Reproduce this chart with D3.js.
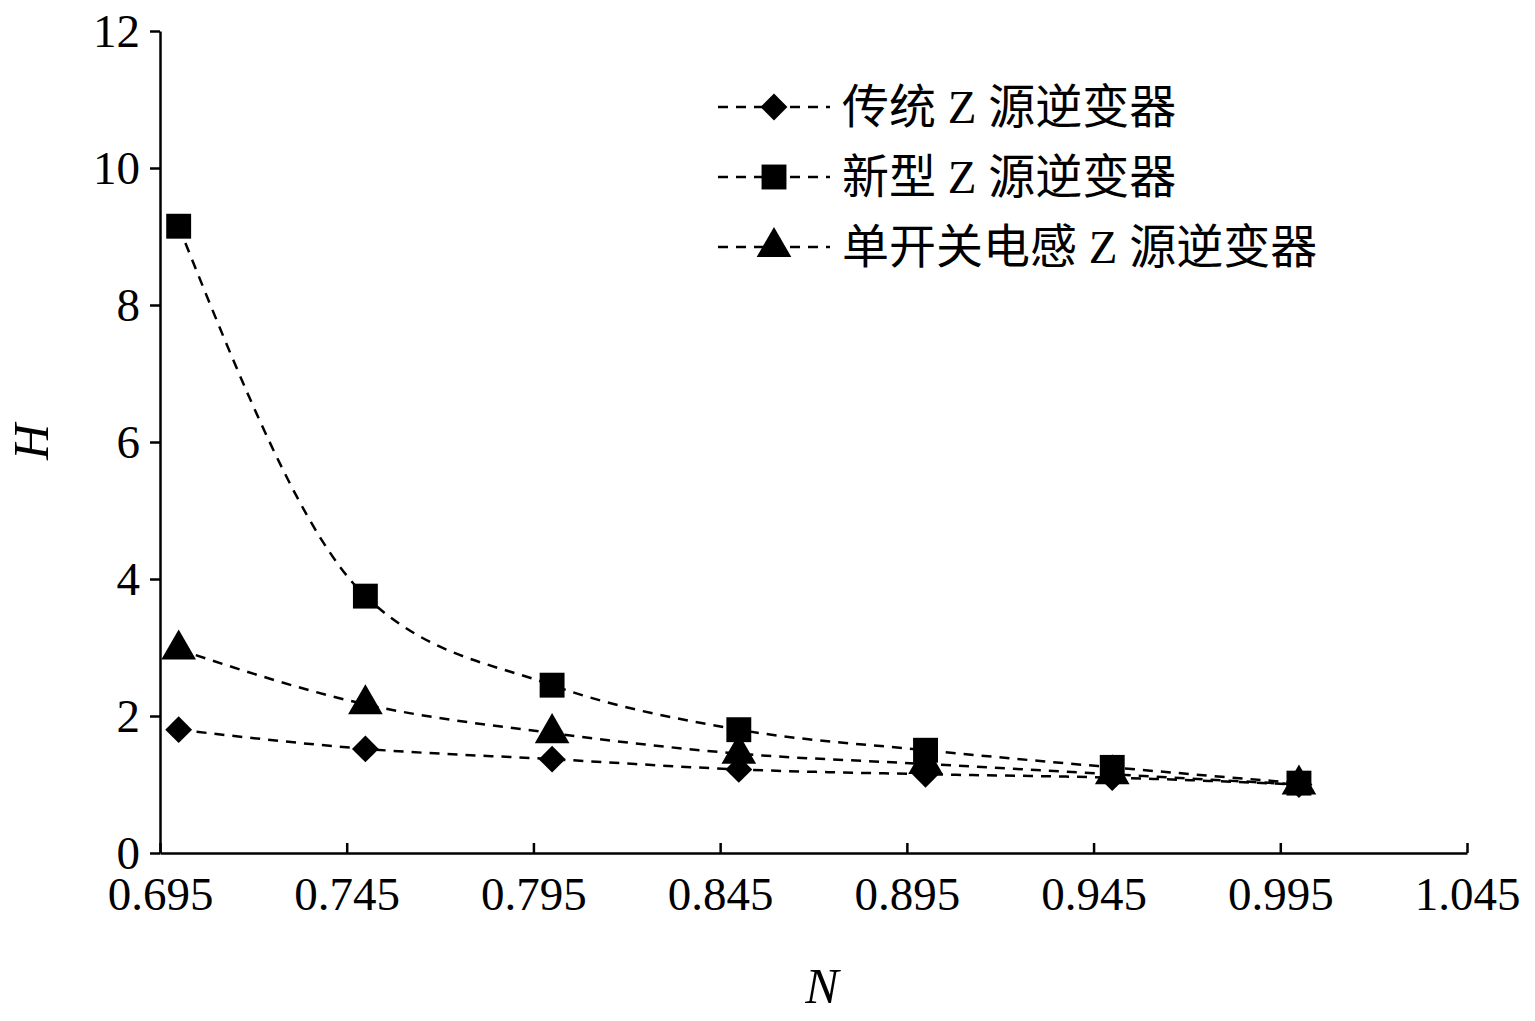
<!DOCTYPE html>
<html><head><meta charset="utf-8">
<script src="https://cdn.jsdelivr.net/npm/d3@7"></script>
<style>body{margin:0;background:#fff}</style></head>
<body><svg id="c" width="1535" height="1021"></svg>
<script>
const xValues=[0.7,0.75,0.8,0.85,0.9,0.95,1.0];
const seriesNames=["传统 Z 源逆变器","新型 Z 源逆变器","单开关电感 Z 源逆变器"];
const diamondVals=[1.8,1.52,1.37,1.22,1.15,1.1,1.0];
const squareVals=[9.15,3.75,2.45,1.8,1.5,1.25,1.02];
const triangleVals=[2.97,2.17,1.75,1.45,1.3,1.15,1.0];
const xTicks=[0.695,0.745,0.795,0.845,0.895,0.945,0.995,1.045];
const yTicks=[0,2,4,6,8,10,12];

const svg=d3.select("#c");
const x=d3.scaleLinear().domain([0.695,1.045]).range([160,1467]);
const y=d3.scaleLinear().domain([0,12]).range([853,31]);
const serif="'Liberation Serif','Times New Roman',serif";
const cjk="'Liberation Serif','Noto Sans CJK SC',serif";

const xa=svg.append("g").attr("transform","translate(0,853)")
 .call(d3.axisBottom(x).tickValues(xTicks).tickFormat(d3.format(".3f")).tickSizeInner(-10).tickSizeOuter(0).tickPadding(24));
const ya=svg.append("g").attr("transform","translate(160,0)")
 .call(d3.axisLeft(y).tickValues(yTicks).tickFormat(d3.format("d")).tickSizeInner(10).tickSizeOuter(0).tickPadding(10));
[xa,ya].forEach(a=>{a.selectAll("path,line").attr("stroke","#000").attr("stroke-width",2.5);
 a.selectAll("text").attr("font-family",serif).attr("font-size",47).attr("fill","#000");});
xa.selectAll("text").attr("dy","0.71em");

svg.append("text").attr("x",822).attr("y",1003).attr("text-anchor","middle").attr("font-family",serif).attr("font-style","italic").attr("font-size",50).text("N");
svg.append("text").attr("x",30).attr("y",442).attr("text-anchor","middle").attr("font-family",serif).attr("font-style","italic").attr("font-size",50).attr("transform","rotate(-90,30,442)").attr("dy","0.35em").text("H");

const series=[diamondVals,squareVals,triangleVals];
const shapes=[d3.symbolSquare,d3.symbolSquare,d3.symbolTriangle];
const sizes=[360,620,520];
const rot=[45,0,0];
const line=d3.line().x((d,i)=>x(xValues[i])).y(d=>y(d)).curve(d3.curveMonotoneX);
series.forEach((vals,k)=>{
  svg.append("path").attr("d",line(vals)).attr("fill","none").attr("stroke","#000").attr("stroke-width",2.5).attr("stroke-dasharray","10,8");
});
series.forEach((vals,k)=>{
  svg.selectAll(null).data(vals).enter().append("path")
   .attr("d",d3.symbol().type(shapes[k]).size(sizes[k]))
   .attr("transform",(d,i)=>`translate(${x(xValues[i])},${y(d)}) rotate(${rot[k]})`).attr("fill","#000");
});
const ly=[107,177,247];
seriesNames.forEach((n,k)=>{
  svg.append("line").attr("x1",718).attr("x2",830).attr("y1",ly[k]).attr("y2",ly[k]).attr("stroke","#000").attr("stroke-width",2.5).attr("stroke-dasharray","10,8");
  svg.append("path").attr("d",d3.symbol().type(shapes[k]).size(sizes[k])).attr("transform",`translate(774,${ly[k]}) rotate(${rot[k]})`).attr("fill","#000");
  svg.append("text").attr("x",842).attr("y",ly[k]).attr("dy","0.35em").attr("font-family",cjk).attr("font-size",47).text(n);
});
</script></body></html>
